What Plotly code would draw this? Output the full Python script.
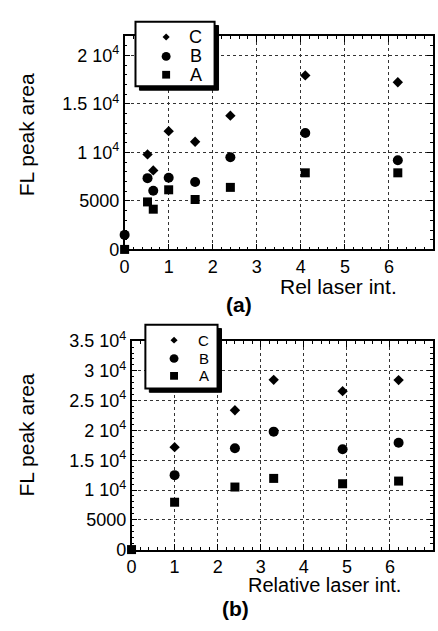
import plotly.graph_objects as go

W, H = 438, 631

# ---- series names ----
series = ["C", "B", "A"]

# ---- data panel (a) ----
a_x_C = [0.52, 0.65, 1.0, 1.6, 2.4, 4.1, 6.2]
a_C = [9800, 8150, 12200, 11100, 13800, 17950, 17250]
a_x_B = [0, 0.52, 0.65, 1.0, 1.6, 2.4, 4.1, 6.2]
a_B = [1500, 7350, 6050, 7400, 6950, 9500, 12000, 9200]
a_x_A = [0, 0.52, 0.65, 1.0, 1.6, 2.4, 4.1, 6.2]
a_A = [0, 4900, 4150, 6150, 5150, 6400, 7900, 7900]

# ---- data panel (b) ----
b_x_C = [1.0, 2.4, 3.3, 4.9, 6.2]
b_C = [17200, 23400, 28500, 26600, 28450]
b_x_B = [1.0, 2.4, 3.3, 4.9, 6.2]
b_B = [12500, 17000, 19800, 16850, 17950]
b_x_A = [0, 1.0, 2.4, 3.3, 4.9, 6.2]
b_A = [0, 7950, 10500, 11950, 11050, 11500]

a_yticks = [0, 5000, 10000, 15000, 20000]
a_yticktext = ["0", "5000", "1 10<sup>4</sup>", "1.5 10<sup>4</sup>", "2 10<sup>4</sup>"]
b_yticks = [0, 5000, 10000, 15000, 20000, 25000, 30000, 35000]
b_yticktext = ["0", "5000", "1 10<sup>4</sup>", "1.5 10<sup>4</sup>", "2 10<sup>4</sup>",
               "2.5 10<sup>4</sup>", "3 10<sup>4</sup>", "3.5 10<sup>4</sup>"]
xticks = [0, 1, 2, 3, 4, 5, 6, 7]

FONT = "Liberation Sans, Arial, Helvetica, sans-serif"


def px(x):
    return x / W


def py(y):
    return 1 - y / H


fig = go.Figure()

sym = {"C": ("diamond", 8), "B": ("circle", 10), "A": ("square", 9)}


def add(xs, ys, name, xa, ya):
    s, sz = sym[name]
    fig.add_trace(go.Scatter(
        x=xs, y=ys, mode="markers", name=name,
        marker=dict(symbol=s, size=sz, color="black", line=dict(width=0)),
        xaxis=xa, yaxis=ya, showlegend=False, cliponaxis=False))


add(a_x_C, a_C, "C", "x", "y")
add(a_x_B, a_B, "B", "x", "y")
add(a_x_A, a_A, "A", "x", "y")
add(b_x_C, b_C, "C", "x2", "y2")
add(b_x_B, b_B, "B", "x2", "y2")
add(b_x_A, b_A, "A", "x2", "y2")

axis_common = dict(
    showline=True, linecolor="black", linewidth=1.5, mirror="ticks",
    ticks="inside", ticklen=6, tickwidth=1, tickcolor="black",
    showgrid=True, gridcolor="#333333", gridwidth=1, griddash="dot",
    zeroline=False, tickfont=dict(family=FONT, size=18, color="black"),
)

fig.update_layout(
    width=W, height=H,
    margin=dict(l=0, r=0, t=0, b=0),
    paper_bgcolor="white", plot_bgcolor="white",
    font=dict(family=FONT, color="black"),
    showlegend=False,
    xaxis=dict(domain=[px(121), px(433)], range=[0, 7], anchor="y",
               tickvals=xticks, minor=dict(dtick=0.2, ticks="inside", ticklen=3, tickcolor="black"),
               **axis_common),
    yaxis=dict(domain=[py(246), py(25)], range=[0, 22000], anchor="x",
               tickvals=a_yticks, ticktext=a_yticktext,
               minor=dict(dtick=1000, ticks="inside", ticklen=3, tickcolor="black"),
               **axis_common),
    xaxis2=dict(domain=[px(128), px(433)], range=[0, 7], anchor="y2",
                tickvals=xticks, minor=dict(dtick=0.2, ticks="inside", ticklen=3, tickcolor="black"),
                **axis_common),
    yaxis2=dict(domain=[py(557), py(341)], range=[0, 35000], anchor="x2",
                tickvals=b_yticks, ticktext=b_yticktext,
                minor=dict(dtick=1000, ticks="inside", ticklen=3, tickcolor="black"),
                **axis_common),
)


def rect_path(x0, y0, x1, y1):
    return "M {a},{b} L {c},{b} L {c},{d} L {a},{d} Z".format(
        a=px(x0), b=py(y0), c=px(x1), d=py(y1))


# ---- custom legends (box with drop shadow) ----
def legend_box(x0, y0, x1, y1, mark_x, text_x, rows, fsize):
    fig.add_shape(type="path", xref="paper", yref="paper",
                  path=rect_path(x0 + 4, y0 + 4, x1 + 4, y1 + 4),
                  fillcolor="black", line=dict(color="black", width=1), layer="above")
    fig.add_shape(type="path", xref="paper", yref="paper",
                  path=rect_path(x0, y0, x1, y1),
                  fillcolor="white", line=dict(color="black", width=2), layer="above")
    for name, ry in zip(series, rows):
        s, _ = sym[name]
        if s == "diamond":
            r = 3.6
            path = "M {},{} L {},{} L {},{} L {},{} Z".format(
                px(mark_x), py(ry - r), px(mark_x + r), py(ry),
                px(mark_x), py(ry + r), px(mark_x - r), py(ry))
            fig.add_shape(type="path", xref="paper", yref="paper", path=path,
                          fillcolor="black", line=dict(width=0), layer="above")
        elif s == "circle":
            r = 4.5
            fig.add_shape(type="circle", xref="paper", yref="paper",
                          x0=px(mark_x - r), x1=px(mark_x + r), y0=py(ry + r), y1=py(ry - r),
                          fillcolor="black", line=dict(width=0), layer="above")
        else:
            r = 4.0
            fig.add_shape(type="path", xref="paper", yref="paper",
                          path=rect_path(mark_x - r, ry - r, mark_x + r, ry + r),
                          fillcolor="black", line=dict(width=0), layer="above")
        fig.add_annotation(text=name, x=px(text_x), y=py(ry), xref="paper", yref="paper",
                           showarrow=False, xanchor="center", yanchor="middle",
                           font=dict(family=FONT, size=fsize, color="black"))


legend_box(132, 10, 212, 77, 163, 193, [26, 46, 65], 18)
legend_box(142, 324, 215, 390, 171, 201, [340, 359, 377], 15)

ann = [
    dict(text="FL peak area", x=px(22), y=py(127), textangle=-90, size=21),
    dict(text="Rel laser int.", x=px(337), y=py(284), textangle=0, size=21),
    dict(text="<b>(a)</b>", x=px(237), y=py(303), textangle=0, size=21),
    dict(text="FL peak area", x=px(22), y=py(438), textangle=-90, size=21),
    dict(text="Relative laser int.", x=px(323), y=py(594), textangle=0, size=20),
    dict(text="<b>(b)</b>", x=px(233), y=py(618), textangle=0, size=21),
]
for a in ann:
    fig.add_annotation(text=a["text"], x=a["x"], y=a["y"], xref="paper", yref="paper",
                       showarrow=False, textangle=a["textangle"],
                       font=dict(family=FONT, size=a["size"], color="black"),
                       xanchor="center", yanchor="middle")

# remove the default 8px body margin so the 438x631 figure fills the window exactly
fig.write_html("out.html",
               post_script="document.body.style.margin='0';"
                           "document.documentElement.style.overflow='hidden';")
